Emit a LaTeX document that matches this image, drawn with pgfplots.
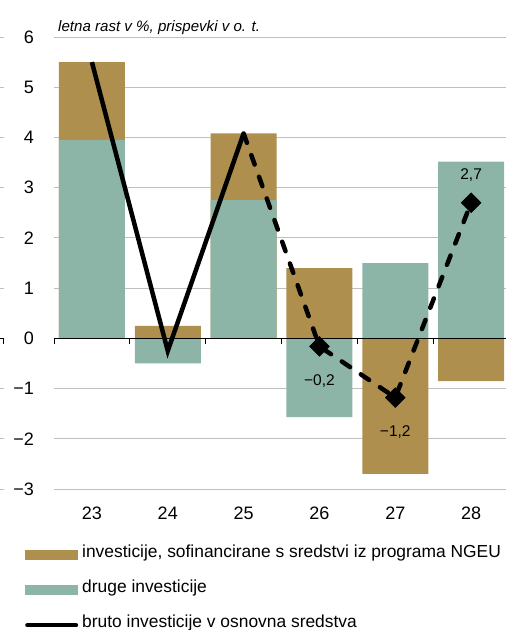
\documentclass[border=0pt]{standalone}
\usepackage{fontspec}
\setmainfont{Liberation Sans}
\usepackage{pgfplots}
\pgfplotsset{compat=1.18}
\definecolor{gold}{HTML}{AE8F4D}
\definecolor{teal2}{HTML}{8DB5A7}
\definecolor{gridgray}{HTML}{BFBFBF}
\begin{document}
\begin{tikzpicture}
\useasboundingbox (-54pt,-141pt) rectangle (452pt,489pt);
\begin{axis}[
  at={(0,0)}, anchor=south west,
  scale only axis, width=452pt, height=452pt,
  xmin=22.5, xmax=28.46, ymin=-3, ymax=6,
  xtick={23,...,28}, xticklabels={23,24,25,26,27,28},
  ytick={-3,...,6}, yticklabels={−3,−2,−1,0,1,2,3,4,5,6},
  axis line style={draw=none},
  major tick length=0pt,
  ymajorgrids, grid style={gridgray, line width=0.9pt},
  tick label style={font=\fontsize{18}{21}\selectfont},
  yticklabel style={inner sep=0pt, anchor=east, xshift=-20pt},
  xticklabel style={inner sep=0pt, anchor=north, yshift=-18pt},
  clip=false,
  legend cell align=left,
  legend style={at={(0,0)}, anchor=north west, xshift=-29pt, yshift=-61pt,
    draw=none, fill=none, inner sep=0pt, row sep=25pt, column sep=4pt,
    font=\fontsize{17.4}{21}\selectfont,
    nodes={inner sep=0pt, text height=0.75em, text depth=0.25em}},
]
\addplot[ybar, bar width=66pt, bar shift=0pt, fill=gold, draw=none,
  legend image code/.code={\fill[gold] (0pt,-5pt) rectangle (53pt,5pt);}]
  coordinates {(23,5.5)(24,0.25)(25,4.08)(26,1.4)(27,-2.7)(28,-0.85)};
\addlegendentry{investicije, sofinancirane s sredstvi iz programa NGEU}
\addplot[ybar, bar width=66pt, bar shift=0pt, fill=teal2, draw=none,
  legend image code/.code={\fill[teal2] (0pt,-5pt) rectangle (53pt,5pt);}]
  coordinates {(23,3.95)(24,-0.5)(25,2.75)(26,-1.57)(27,1.5)(28,3.52)};
\addlegendentry{druge investicije}
\draw[black, line width=0.9pt] (axis cs:22.5,0) -- (axis cs:28.46,0);
\draw[black, line width=0.9pt] (axis cs:22.5,0) -- ([yshift=-6pt]axis cs:22.5,0);
\draw[black, line width=0.9pt] (axis cs:23.5,0) -- ([yshift=-6pt]axis cs:23.5,0);
\draw[black, line width=0.9pt] (axis cs:24.5,0) -- ([yshift=-6pt]axis cs:24.5,0);
\draw[black, line width=0.9pt] (axis cs:25.5,0) -- ([yshift=-6pt]axis cs:25.5,0);
\draw[black, line width=0.9pt] (axis cs:26.5,0) -- ([yshift=-6pt]axis cs:26.5,0);
\draw[black, line width=0.9pt] (axis cs:27.5,0) -- ([yshift=-6pt]axis cs:27.5,0);
\addplot[black, line width=4.5pt, no marks, line join=miter,
  legend image code/.code={\draw[black, line width=4.5pt, line cap=round] (2.25pt,0pt) -- (50.75pt,0pt);}]
  coordinates {(23,5.5)(24,-0.25)(25,4.08)};
\addlegendentry{bruto investicije v osnovna sredstva}
\addplot[black, line width=4.5pt, no marks, line cap=round, dash pattern=on 10pt off 13pt, forget plot]
  coordinates {(25,4.08)(26,-0.16)(27,-1.18)(28,2.7)};
\addplot[only marks, mark=square*, mark size=7pt, mark options={rotate=45, fill=black, draw=black, solid, line width=0.5pt}, forget plot]
  coordinates {(26,-0.16)(27,-1.18)(28,2.7)};
\node[font=\fontsize{15.5}{18}\selectfont] at (axis cs:26,-0.86) {−0,2};
\node[font=\fontsize{15.5}{18}\selectfont] at (axis cs:27,-1.87) {−1,2};
\node[font=\fontsize{15.5}{18}\selectfont] at (axis cs:28,3.25) {2,7};
\node[anchor=base west, font=\fontsize{15.1}{18}\selectfont\itshape, inner sep=0pt] at ([xshift=4pt,yshift=6pt]rel axis cs:0,1) {letna rast v \%, prispevki v o. t.};
\draw[gridgray, line width=0.9pt] ([xshift=-54pt]axis cs:22.5,6) -- ([xshift=-50pt]axis cs:22.5,6);
\draw[gridgray, line width=0.9pt] ([xshift=-54pt]axis cs:22.5,5) -- ([xshift=-50pt]axis cs:22.5,5);
\draw[gridgray, line width=0.9pt] ([xshift=-54pt]axis cs:22.5,4) -- ([xshift=-50pt]axis cs:22.5,4);
\draw[gridgray, line width=0.9pt] ([xshift=-54pt]axis cs:22.5,3) -- ([xshift=-50pt]axis cs:22.5,3);
\draw[gridgray, line width=0.9pt] ([xshift=-54pt]axis cs:22.5,2) -- ([xshift=-50pt]axis cs:22.5,2);
\draw[gridgray, line width=0.9pt] ([xshift=-54pt]axis cs:22.5,1) -- ([xshift=-50pt]axis cs:22.5,1);
\draw[gridgray, line width=0.9pt] ([xshift=-54pt]axis cs:22.5,-1) -- ([xshift=-50pt]axis cs:22.5,-1);
\draw[gridgray, line width=0.9pt] ([xshift=-54pt]axis cs:22.5,-2) -- ([xshift=-50pt]axis cs:22.5,-2);
\draw[gridgray, line width=0.9pt] ([xshift=-54pt]axis cs:22.5,-3) -- ([xshift=-50pt]axis cs:22.5,-3);
\draw[black, line width=0.9pt] ([xshift=-54pt]axis cs:22.5,0) -- ([xshift=-50.5pt]axis cs:22.5,0) -- ([xshift=-50.5pt,yshift=-6pt]axis cs:22.5,0);
\end{axis}
\end{tikzpicture}
\end{document}
